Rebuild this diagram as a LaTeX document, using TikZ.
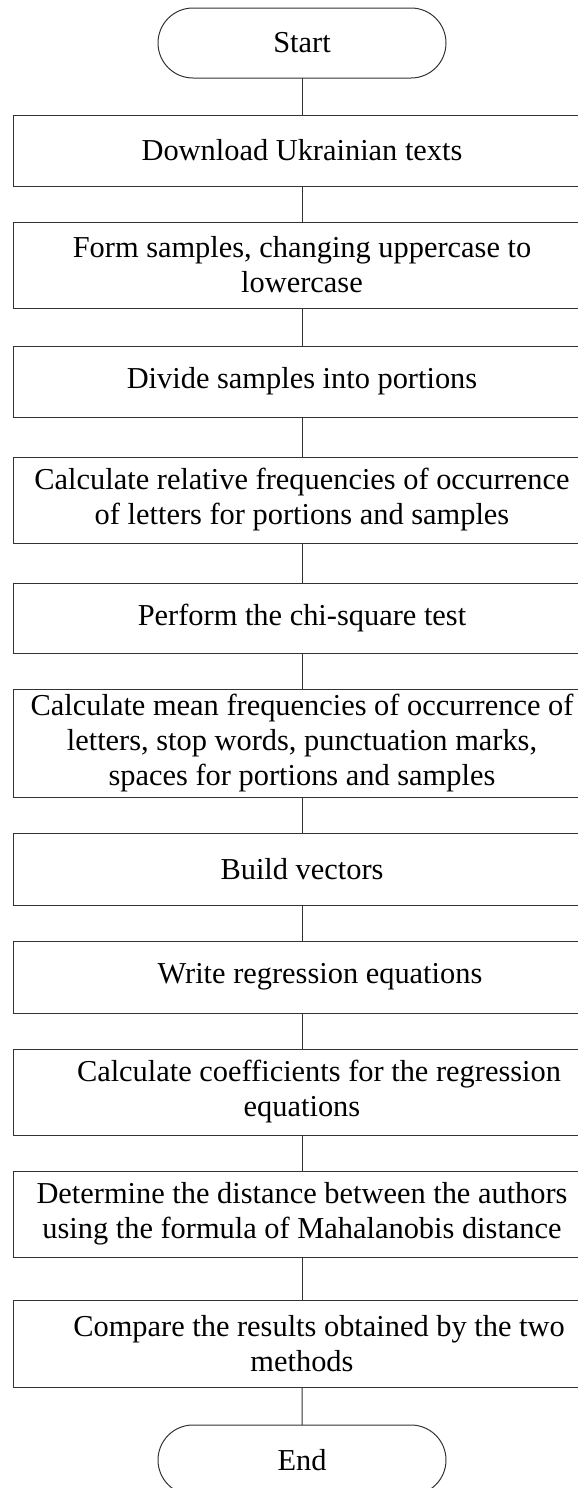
\documentclass[tikz,border=0pt]{standalone}
\usepackage{fontspec}
\setmainfont{Liberation Serif}
\usetikzlibrary{shapes.misc}

\tikzset{
  stepbox/.style={draw=black!80,line width=0.5pt,minimum width=289pt,inner sep=0pt,outer sep=0pt,
    align=center,font=\fontsize{15.2}{17.5}\selectfont},
  termbox/.style={stepbox,rounded rectangle,minimum width=144pt,minimum height=35pt},
  link/.style={draw=black!80,line width=0.5pt}
}

\begin{document}
\begin{tikzpicture}[x=0.5pt,y=-0.5pt]
  \useasboundingbox (0,0) rectangle (578,1488);
  \node[termbox] (start) at (302,43) {Start};
  \foreach \n/\y/\h/\t in {
    1/150.5/35.5/{Download Ukrainian texts},
    2/265/43/{Form samples, changing uppercase to\\lowercase},
    3/381.5/35.5/{Divide samples into portions},
    4/500/43/{Calculate relative frequencies of occurrence\\of letters for portions and samples},
    5/618/35/{Perform the chi-square test},
    6/743/54/{Calculate mean frequencies of occurrence of\\letters, stop words, punctuation marks,\\spaces for portions and samples},
    7/869/36/{Build vectors},
    8/977/36/{\hspace*{18pt}Write regression equations},
    9/1092/43/{\hspace*{17pt}Calculate coefficients for the regression\\equations},
    10/1214/43/{Determine the distance between the authors\\using the formula of Mahalanobis distance},
    11/1343.5/43.5/{\hspace*{17pt}Compare the results obtained by the two\\methods}}
    \node[stepbox,minimum height=\h pt] (b\n) at (302,\y) {\t};
  \node[termbox] (stop) at (302,1460) {End};
  \draw[link] (start) -- (b1);
  \foreach \a/\b in {b1/b2,b2/b3,b3/b4,b4/b5,b5/b6,b6/b7,b7/b8,b8/b9,b9/b10,b10/b11,b11/stop}
    \draw[link] (\a) -- (\b);
\end{tikzpicture}
\end{document}
